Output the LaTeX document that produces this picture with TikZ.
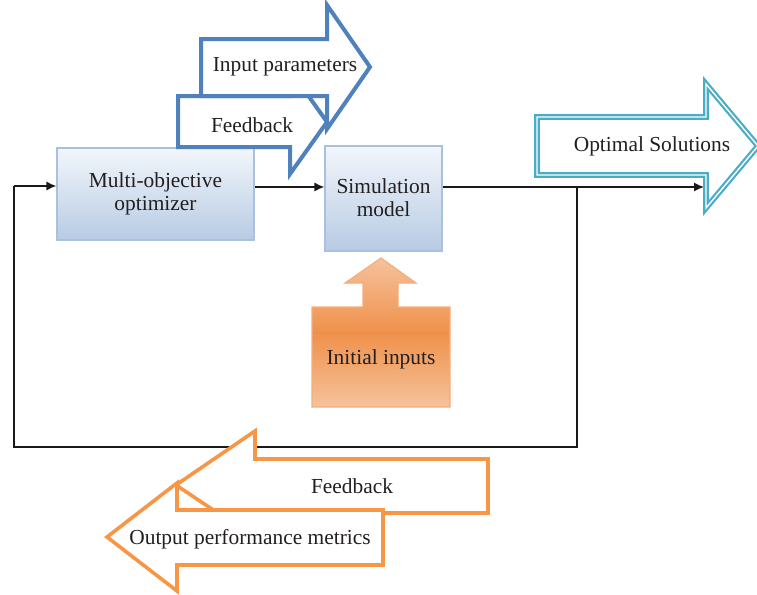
\documentclass[tikz,border=0pt]{standalone}
\usepackage{fontspec}
\setmainfont{Liberation Serif}
\usetikzlibrary{arrows.meta}
\definecolor{bluestroke}{HTML}{4F81BD}
\definecolor{boxtop}{HTML}{F2F6FB}
\definecolor{boxbot}{HTML}{B7CBE4}
\definecolor{boxline}{HTML}{A9C1DF}
\definecolor{teal}{HTML}{4BACC6}
\definecolor{orangestroke}{HTML}{F79646}
\definecolor{inlight}{HTML}{F6C29C}
\definecolor{indark}{HTML}{EF914B}
\definecolor{inline}{HTML}{F3AE7D}
\definecolor{txt}{HTML}{231F20}
\tikzset{
  lbl/.style={text=txt, font=\fontsize{10.7}{11.6}\selectfont, inner sep=0pt, align=center},
  box/.style={draw=boxline, line width=0.6pt, top color=boxtop, bottom color=boxbot, inner sep=0pt},
  conn/.style={draw=black!90, line width=0.75pt, -{Latex[length=5pt,width=4.6pt]}},
  wire/.style={draw=black!90, line width=0.75pt},
  bluearrow/.style={draw=bluestroke, line width=2pt, fill=white, line join=miter},
  orangearrow/.style={draw=orangestroke, line width=1.8pt, fill=white, line join=miter},
  tealarrow/.style={draw=teal, double=white, line width=1.1pt, double distance=0.7pt, line join=miter},
}
\begin{document}
\begin{tikzpicture}[x=0.5pt,y=-0.5pt]
\useasboundingbox (0,0) rectangle (757,595);
% boxes
\node[box, minimum width=98.5pt, minimum height=46pt] (opt) at (155.5,194) {};
\node[lbl] (optlbl) at (155.5,194) {Multi-objective\\optimizer};
\node[box, minimum width=58.5pt, minimum height=52.5pt] (sim) at (383.5,198.5) {};
\node[lbl] (simlbl) at (383.5,198) {Simulation\\model};
% initial inputs shape
\path[draw=inline, line width=0.6pt, top color=inlight, bottom color=inlight, middle color=indark]
  (312,307) -- (363,307) -- (363,283) -- (345,283) -- (381,258) -- (416,283) -- (398,283) -- (398,307)
  -- (450,307) -- (450,407) -- (312,407) -- cycle;
\node[lbl] (init) at (381,359) {Initial inputs};
% connectors
\coordinate (j) at (577,187);
\coordinate (optin) at (704,187);
\coordinate (c1) at (577,447);
\coordinate (c2) at (14,447);
\coordinate (c3) at (14,186);
\draw[conn] (opt.east |- j) -- (sim.west |- j);
\draw[conn] (sim.east |- j) -- (optin);
\draw[wire] (j) -- (c1) -- (c2) -- (c3);
\draw[conn] (c3) -- (opt.west |- c3);
% blue arrows
\path[bluearrow] (178,96) -- (290,96) -- (290,70) -- (327,122) -- (290,174) -- (290,147) -- (178,147) -- cycle;
\node[lbl] (fb1) at (252,125) {Feedback};
\path[bluearrow] (201,39) -- (327,39) -- (327,5) -- (370,67) -- (327,129) -- (327,96) -- (201,96) -- cycle;
\node[lbl] (inp) at (285,67) {Input parameters};
% optimal solutions
\path[tealarrow, fill=white] (537,117) -- (706,117) -- (706,84) -- (758,146) -- (706,208) -- (706,175) -- (537,175) -- cycle;
\node[lbl] (optsol) at (652,146) {Optimal Solutions};
% orange arrows
\path[orangearrow] (488,459) -- (255,459) -- (255,431) -- (176,485) -- (255,538) -- (255,513) -- (488,513) -- cycle;
\node[lbl] (fb2) at (352,486) {Feedback};
\path[orangearrow] (383,510) -- (177,510) -- (177,483) -- (107,537) -- (177,591) -- (177,565) -- (383,565) -- cycle;
\node[lbl] (outp) at (250,539) {Output performance metrics};
\end{tikzpicture}
\end{document}
